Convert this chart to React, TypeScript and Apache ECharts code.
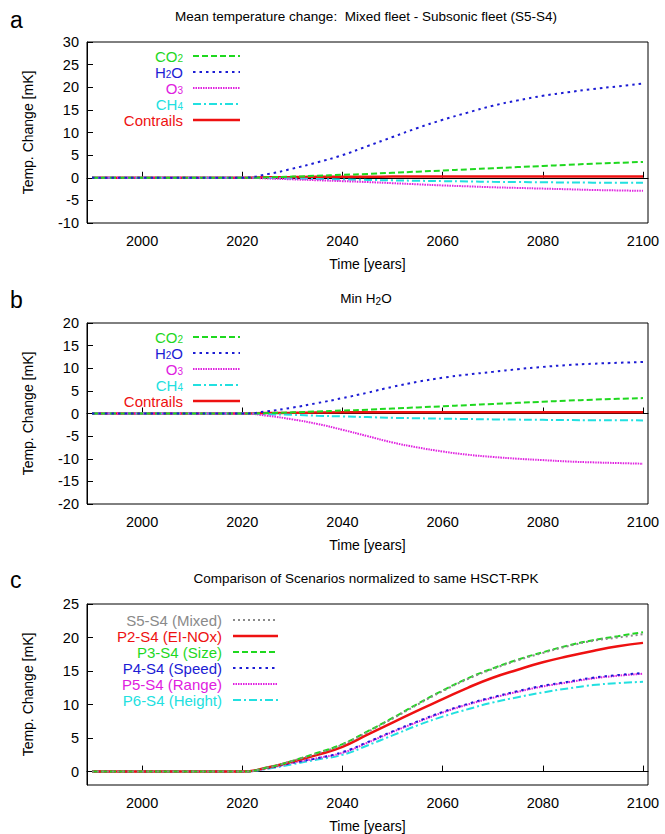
import React, { useEffect, useRef } from "react";
import * as echarts from "echarts";

const years = [1990,1995,2000,2005,2010,2015,2020,2025,2030,2035,2040,2045,2050,2055,2060,2065,2070,2075,2080,2085,2090,2095,2100];
const z = [0,0,0,0,0,0,0];
// Panel a
const aCO2 = [...z,0.1,0.25,0.45,0.65,0.85,1.1,1.35,1.6,1.85,2.1,2.35,2.6,2.85,3.1,3.3,3.5];
const aH2O = [...z,0.8,2.0,3.4,5.0,7.0,9.0,11.0,12.8,14.4,15.9,17.1,18.1,18.9,19.6,20.2,20.8];
const aO3 = [...z,-0.15,-0.35,-0.55,-0.75,-0.95,-1.2,-1.45,-1.7,-1.9,-2.1,-2.25,-2.4,-2.55,-2.7,-2.8,-2.9];
const aCH4 = [...z,-0.08,-0.18,-0.28,-0.38,-0.48,-0.58,-0.67,-0.75,-0.82,-0.9,-0.95,-1.0,-1.05,-1.08,-1.1,-1.12];
const aCon = [...z,0.1,0.15,0.2,0.2,0.2,0.25,0.25,0.25,0.25,0.3,0.3,0.3,0.3,0.3,0.3,0.3];
// Panel b
const bCO2 = [...z,0.1,0.25,0.45,0.65,0.85,1.1,1.35,1.6,1.85,2.1,2.35,2.6,2.85,3.05,3.25,3.4];
const bH2O = [...z,0.5,1.3,2.3,3.4,4.6,5.9,7.0,7.9,8.6,9.2,9.8,10.3,10.7,11.0,11.2,11.4];
const bO3 = [...z,-0.5,-1.3,-2.3,-3.6,-5.0,-6.4,-7.5,-8.4,-9.1,-9.6,-10.0,-10.3,-10.6,-10.8,-10.95,-11.1];
const bCH4 = [...z,-0.15,-0.3,-0.5,-0.65,-0.8,-0.95,-1.05,-1.15,-1.22,-1.3,-1.35,-1.4,-1.45,-1.48,-1.5,-1.52];
const bCon = [...z,0.1,0.15,0.2,0.25,0.25,0.25,0.3,0.3,0.3,0.3,0.3,0.3,0.3,0.3,0.3,0.3];
// Panel c
const cMixed = [...z,0.6,1.6,2.7,4.0,5.9,7.9,10.0,12.0,13.8,15.3,16.6,17.7,18.7,19.5,20.0,20.5];
const cNOx = [...z,0.6,1.5,2.5,3.7,5.5,7.3,9.1,10.8,12.5,14.0,15.2,16.3,17.2,18.0,18.7,19.2];
const cSize = [...z,0.6,1.6,2.8,4.1,6.0,8.0,10.1,12.1,13.9,15.4,16.7,17.8,18.8,19.6,20.2,20.8];
const cSpeed = [...z,0.5,1.3,2.0,2.9,4.4,6.0,7.5,8.9,10.1,11.1,12.0,12.8,13.4,14.0,14.4,14.7];
const cRange = [...z,0.5,1.3,2.0,2.8,4.3,5.9,7.4,8.8,10.0,11.0,11.9,12.7,13.3,13.9,14.3,14.6];
const cHeight = [...z,0.4,1.1,1.8,2.5,3.9,5.4,6.9,8.2,9.3,10.3,11.1,11.8,12.4,12.9,13.2,13.4];
const xLabels = [2000, 2020, 2040, 2060, 2080, 2100];

const GREEN = "#1fd81f", BLUE = "#1c1cd4", MAG = "#e020e0", CYAN = "#22e0e0", RED = "#ee1111", GRAY = "#8a8a8a";
const FONT = "Liberation Sans";
const DASH = { co2: [6, 3], h2o: [2.5, 4], o3: [1.5, 1], ch4: [8, 3, 2, 3] };

export default function App() {
  const ref = useRef<HTMLDivElement>(null);
  useEffect(() => {
    const chart = echarts.init(ref.current!, null, { renderer: "svg" });
    const grids = [
      { left: 87, right: 17, top: 42, height: 181 },
      { left: 87, right: 17, top: 323, height: 181 },
      { left: 87, right: 17, top: 604, height: 181 },
    ];
    const yDefs = [
      { min: -10, max: 30, vals: [-10,-5,0,5,10,15,20,25,30] },
      { min: -20, max: 20, vals: [-20,-15,-10,-5,0,5,10,15,20] },
      { min: -2, max: 25, vals: [0,5,10,15,20,25] },
    ];
    const axisText = { color: "#000", fontFamily: FONT, fontSize: 14.5 };
    const xAxis = grids.map((_, i) => ({
      type: "value", gridIndex: i, min: 1989, max: 2101,
      name: "Time [years]", nameLocation: "middle", nameGap: 34,
      nameTextStyle: { ...axisText, fontSize: 14 },
      axisLine: { lineStyle: { color: "#000" } },
      axisTick: { inside: true, length: 6, customValues: xLabels, lineStyle: { color: "#000" } },
      axisLabel: { ...axisText, customValues: xLabels, margin: 10, formatter: (v: number) => String(v) },
      splitLine: { show: false },
    }));
    const yAxis = yDefs.map((d, i) => ({
      type: "value", gridIndex: i, min: d.min, max: d.max,
      name: "Temp. Change [mK]", nameLocation: "middle", nameGap: 52,
      nameTextStyle: { ...axisText, fontSize: 14 },
      axisLine: { show: true, lineStyle: { color: "#000" } },
      axisTick: { show: true, inside: true, length: 6, customValues: d.vals, lineStyle: { color: "#000" } },
      axisLabel: { ...axisText, customValues: d.vals, margin: 8 },
      splitLine: { show: false },
    }));
    const mk = (data: number[], color: string, dash: any, gi: number, w = 2) => ({
      type: "line", xAxisIndex: gi, yAxisIndex: gi, smooth: true, showSymbol: false,
      data: years.map((y, k) => [y, data[k]]),
      lineStyle: { color, width: w, type: dash || "solid" },
    });
    const series = [
      mk(aCon, RED, null, 0, 2.5), mk(aCH4, CYAN, DASH.ch4, 0), mk(aO3, MAG, DASH.o3, 0), mk(aCO2, GREEN, DASH.co2, 0), mk(aH2O, BLUE, DASH.h2o, 0),
      mk(bCon, RED, null, 1, 2.5), mk(bCH4, CYAN, DASH.ch4, 1), mk(bO3, MAG, DASH.o3, 1), mk(bCO2, GREEN, DASH.co2, 1), mk(bH2O, BLUE, DASH.h2o, 1),
      mk(cHeight, CYAN, DASH.ch4, 2), mk(cRange, MAG, DASH.o3, 2), mk(cSpeed, BLUE, DASH.h2o, 2), mk(cNOx, RED, null, 2, 2.5), mk(cSize, GREEN, DASH.co2, 2), mk(cMixed, GRAY, [2, 3], 2),
    ];
    const rich = { s: { fontSize: 10, fontFamily: FONT, padding: [5, 0, 0, 0], lineHeight: 12 }, t: { fontSize: 15, fontFamily: FONT, lineHeight: 15 } };
    const legendItems = (top: number, textX: number, lineX1: number, lineX2: number, items: any[]) => {
      const g: any[] = [];
      items.forEach((it, k) => {
        const y = top + k * 16;
        g.push({ type: "text", x: textX, y, style: { text: it.text, fill: it.color, align: "right", verticalAlign: "middle", fontFamily: FONT, fontSize: 15, lineHeight: 15, rich: Object.fromEntries(Object.entries(rich).map(([key, v]) => [key, { ...v, color: it.color }])) } });
        g.push({ type: "line", shape: { x1: lineX1, y1: y, x2: lineX2, y2: y }, style: { stroke: it.color, lineWidth: it.w || 2, lineDash: it.dash || null } });
      });
      return g;
    };
    const abItems = [
      { text: "{t|CO}{s|2}", color: GREEN, dash: DASH.co2 },
      { text: "{t|H}{s|2}{t|O}", color: BLUE, dash: DASH.h2o },
      { text: "{t|O}{s|3}", color: MAG, dash: DASH.o3 },
      { text: "{t|CH}{s|4}", color: CYAN, dash: DASH.ch4 },
      { text: "Contrails", color: RED, w: 2.5 },
    ];
    const cItems = [
      { text: "S5-S4 (Mixed)", color: GRAY, dash: [2, 3] },
      { text: "P2-S4 (EI-NOx)", color: RED, w: 2.5 },
      { text: "P3-S4 (Size)", color: GREEN, dash: DASH.co2 },
      { text: "P4-S4 (Speed)", color: BLUE, dash: DASH.h2o },
      { text: "P5-S4 (Range)", color: MAG, dash: DASH.o3 },
      { text: "P6-S4 (Height)", color: CYAN, dash: DASH.ch4 },
    ];
    const titleStyle = { fill: "#000", fontFamily: FONT, fontSize: 13.5, align: "center", verticalAlign: "middle" };
    const letter = { fill: "#000", fontFamily: FONT, fontSize: 23, verticalAlign: "middle" };
    const graphic = [
      { type: "text", x: 10, y: 20, style: { ...letter, text: "a" } },
      { type: "text", x: 10, y: 300, style: { ...letter, text: "b" } },
      { type: "text", x: 10, y: 580, style: { ...letter, text: "c" } },
      { type: "text", x: 366, y: 16, style: { ...titleStyle, text: "Mean temperature change:  Mixed fleet - Subsonic fleet (S5-S4)" } },
      { type: "text", x: 366, y: 298, style: { ...titleStyle, text: "{t|Min H}{s|2}{t|O}", rich: { t: { fontSize: 13.5, fontFamily: FONT }, s: { fontSize: 10, fontFamily: FONT, padding: [6, 0, 0, 0] } } } },
      { type: "text", x: 366, y: 578, style: { ...titleStyle, text: "Comparison of Scenarios normalized to same HSCT-RPK" } },
      ...legendItems(56, 183, 193, 240, abItems),
      ...legendItems(337, 183, 193, 240, abItems),
      ...legendItems(620, 222, 233, 278, cItems),
    ];
    chart.setOption({
      animation: false,
      backgroundColor: "#fff",
      grid: grids.map(g => ({ ...g, show: true, borderColor: "#000", borderWidth: 1 })),
      xAxis, yAxis, series, graphic,
    });
    return () => chart.dispose();
  }, []);
  return <div ref={ref} style={{ position: "fixed", left: 0, top: 0, width: 665, height: 834 }} />;
}
